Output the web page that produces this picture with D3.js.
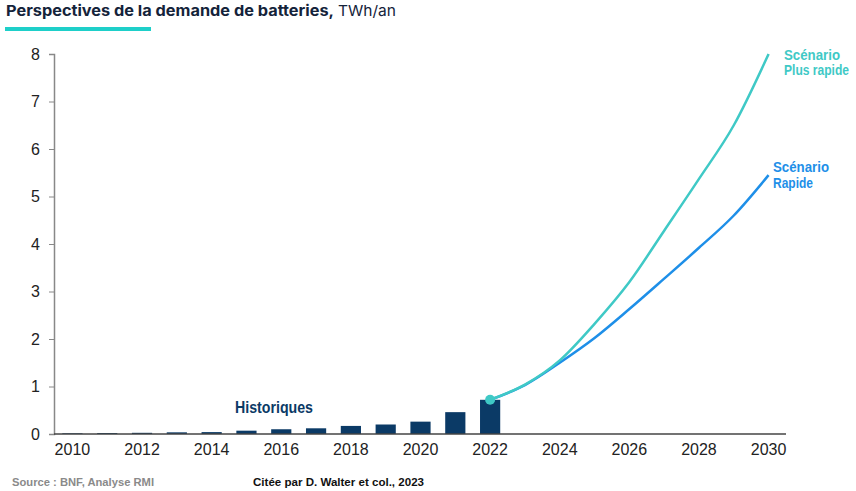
<!DOCTYPE html>
<html><head><meta charset="utf-8">
<script src="https://cdn.jsdelivr.net/npm/d3@7"></script>
<style>body{margin:0;background:#fff}svg{display:block}</style>
</head><body>
<svg id="c" width="856" height="491"></svg>
<script>
const years = d3.range(2010, 2031);
const histYears = [2010,2011,2012,2013,2014,2015,2016,2017,2018,2019,2020,2021,2022];
const histValues = [0.015,0.02,0.025,0.035,0.04,0.07,0.1,0.12,0.17,0.2,0.26,0.46,0.72];
const scenYears = [2022,2023,2024,2025,2026,2027,2028,2029,2030];
const plusRapide = [0.72,1.04,1.55,2.32,3.2,4.28,5.37,6.5,8.0];
const rapide = [0.72,1.03,1.5,2.02,2.63,3.27,3.92,4.6,5.45];
const yTicks = [0,1,2,3,4,5,6,7,8];
const xTickYears = [2010,2012,2014,2016,2018,2020,2022,2024,2026,2028,2030];

const svg = d3.select('#c');
const x = d3.scaleBand().domain(years).range([55,786]).paddingInner(0.42).paddingOuter(0.21);
const xc = d => x(d) + x.bandwidth()/2;
const y = d3.scaleLinear().domain([0,8]).range([434,54]);

// title
const t = svg.append('text').attr('x',6).attr('y',16).attr('font-family','Inter, "Open Sans", sans-serif').attr('font-size',15).attr('fill','#14233a');
t.append('tspan').attr('font-weight',700).attr('textLength',328).attr('lengthAdjust','spacingAndGlyphs').text('Perspectives de la demande de batteries,');
t.append('tspan').attr('font-weight',400).attr('dx',4).attr('textLength',58).attr('lengthAdjust','spacingAndGlyphs').text('TWh/an');
svg.append('rect').attr('x',5).attr('y',27).attr('width',146).attr('height',4).attr('fill','#1ecfc9');

// y axis
const ya = svg.append('g').attr('transform','translate(54,0)').call(d3.axisLeft(y).tickValues(yTicks).tickSize(5).tickPadding(9).tickFormat(d3.format('d')));
ya.select('.domain').attr('stroke','#888').attr('stroke-width',1.5);
ya.selectAll('.tick line').attr('stroke','#888');
ya.selectAll('.tick text').attr('font-family','"Liberation Sans", Arial, sans-serif').attr('font-size',16).attr('fill','#222');

// bars
svg.append('g').selectAll('rect').data(histYears).join('rect')
  .attr('x',d=>x(d)).attr('width',x.bandwidth())
  .attr('y',(d,i)=>y(histValues[i])).attr('height',(d,i)=>y(0)-y(histValues[i]))
  .attr('fill','#0b3a66');

// x axis
const xa = svg.append('g').attr('transform','translate(0,434)').call(d3.axisBottom(x).tickValues(xTickYears).tickSize(0).tickPadding(10).tickFormat(d3.format('d')));
xa.select('.domain').attr('stroke','#444').attr('stroke-width',1.5).attr('d','M54,0H786');
xa.selectAll('.tick text').attr('font-family','"Liberation Sans", Arial, sans-serif').attr('font-size',16).attr('fill','#222');

// lines
const line = d3.line().x(d=>xc(d[0])).y(d=>y(d[1])).curve(d3.curveMonotoneX);
svg.append('path').datum(scenYears.map((d,i)=>[d,rapide[i]])).attr('d',line).attr('fill','none').attr('stroke','#1e8fe8').attr('stroke-width',2.5);
svg.append('path').datum(scenYears.map((d,i)=>[d,plusRapide[i]])).attr('d',line).attr('fill','none').attr('stroke','#3fc9c6').attr('stroke-width',2.5);
svg.append('circle').attr('cx',xc(2022)).attr('cy',y(0.72)).attr('r',5).attr('fill','#3fc9c6');

// labels
const cond = '"Liberation Sans", Arial, sans-serif';
function lab(txt, xx, yy, len, size, col, anchor){
  svg.append('text').attr('x',xx).attr('y',yy).attr('font-family',cond).attr('font-weight',700)
    .attr('text-anchor',anchor||'start')
    .attr('font-size',size).attr('fill',col).attr('textLength',len).attr('lengthAdjust','spacingAndGlyphs').text(txt);
}
lab('Historiques',235,413,78,17,'#0b3a66');
lab('Scénario',784,60,56,14,'#3fc9c6');
lab('Plus rapide',849,75,65,14,'#3fc9c6','end');
lab('Scénario',773,172,56,14,'#1e8fe8');
lab('Rapide',773,188,40,14,'#1e8fe8');

// footer
svg.append('text').attr('x',12).attr('y',486).attr('font-family','"Liberation Sans", Arial, sans-serif').attr('font-weight',700).attr('font-size',10).attr('fill','#8a8a8a').attr('textLength',142).attr('lengthAdjust','spacingAndGlyphs').text('Source : BNF, Analyse RMI');
svg.append('text').attr('x',253).attr('y',486).attr('font-family','"Liberation Sans", Arial, sans-serif').attr('font-weight',700).attr('font-size',10).attr('fill','#111').attr('textLength',171).attr('lengthAdjust','spacingAndGlyphs').text('Citée par D. Walter et col., 2023');
</script>
</body></html>
